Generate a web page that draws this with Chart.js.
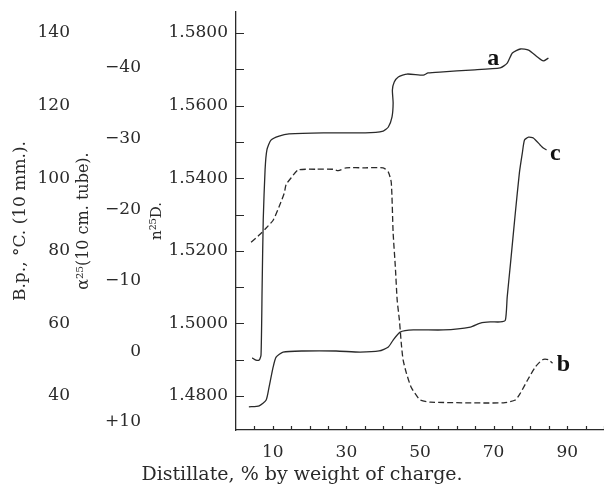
<!DOCTYPE html>
<html>
<head>
<meta charset="utf-8">
<script src="https://cdn.jsdelivr.net/npm/chart.js@4.4.0/dist/chart.umd.min.js"></script>
<style>
  html, body { margin: 0; padding: 0; background: #fff; }
</style>
</head>
<body>
<canvas id="distChart" width="604" height="487"></canvas>
<script>
// curve a: boiling point (°C, 10 mm.)
const aDistillate = [4.4, 5.4, 6.3, 6.8, 7.1, 7.4, 7.9, 8.4, 9.5, 11.7, 14.4, 23.7, 35.1, 40.0, 41.4, 42.4, 42.7, 42.5, 43.0, 44.1, 46.5, 50.9, 52.2, 56.3, 63.7, 71.8, 73.7, 75.1, 77.3, 79.5, 81.9, 83.5, 84.9];
const aBoilingPoint = [50.5, 49.9, 49.9, 51.3, 70.0, 88.5, 102.3, 107.8, 110.5, 111.6, 112.2, 112.5, 112.5, 113.0, 114.1, 116.9, 120.7, 124.3, 126.5, 127.9, 128.7, 128.4, 129.0, 129.3, 129.8, 130.4, 131.7, 134.5, 135.6, 135.3, 133.4, 132.3, 133.1];

// curve b: rotation alpha 25 (10 cm. tube)
const bDistillate = [4.1, 6.3, 8.2, 10.1, 11.7, 13.1, 13.6, 15.0, 16.9, 21.8, 26.4, 27.8, 29.9, 35.1, 40.0, 41.4, 42.2, 42.7, 43.3, 43.8, 44.4, 44.9, 45.4, 46.3, 47.6, 49.5, 50.1, 52.8, 72.7, 75.9, 77.3, 79.2, 81.4, 83.3, 84.9, 86.0];
const bRotation = [-15.4, -16.4, -17.4, -18.5, -20.4, -22.3, -23.5, -24.5, -25.6, -25.7, -25.7, -25.5, -25.9, -25.9, -25.9, -25.3, -23.8, -16.7, -11.9, -7.2, -4.4, -1.2, 1.2, 3.1, 5.1, 6.6, 6.9, 7.2, 7.3, 6.9, 5.9, 4.1, 2.2, 1.2, 1.2, 1.7];

// curve c: refractive index n25D
const cDistillate = [3.5, 6.3, 8.2, 9.0, 10.1, 10.9, 12.8, 18.2, 27.2, 33.7, 38.9, 41.4, 42.7, 44.6, 48.2, 56.3, 63.7, 66.4, 69.1, 71.8, 73.2, 73.7, 74.6, 75.9, 77.0, 77.8, 78.4, 79.5, 80.8, 82.7, 83.5, 84.4];
const cRefIndex = [1.4770, 1.4773, 1.4789, 1.4825, 1.4880, 1.4907, 1.4921, 1.4924, 1.4924, 1.4921, 1.4924, 1.4935, 1.4954, 1.4976, 1.4982, 1.4982, 1.4990, 1.5001, 1.5004, 1.5004, 1.5009, 1.5073, 1.5166, 1.5304, 1.5414, 1.5469, 1.5505, 1.5513, 1.5511, 1.5491, 1.5483, 1.5478];

// tick labels
const xTickLabels = [10, 30, 50, 70, 90];
const bpTickLabels = [40, 60, 80, 100, 120, 140];
const rotTickLabels = [-40, -30, -20, -10, 0, 10];
const nTickLabels = [1.48, 1.50, 1.52, 1.54, 1.56, 1.58];

// curve letters, placed on each curve's own axis
const curveNames = ['a', 'b', 'c'];
const curveAxes = ['bp', 'rot', 'n'];
const curveNameX = [69.9, 89.0, 86.8];
const curveNameY = [132.8, 1.95, 1.5467];

const INK = '#2a2a2a';
const SERIF = '"DejaVu Serif", serif';

function pts(xs, ys) {
    return xs.map((x, i) => ({ x: x, y: ys[i] }));
}
function has(list, v) {
    return list.some(t => Math.abs(t - v) < 1e-6);
}
// fixed axis widths so the three left axes sit like the print
function fixWidth(w) {
    return function(scale) {
        scale.width = w;
        scale.paddingTop = 0;
        scale.paddingBottom = 0;
    };
}

// short tick marks pointing into the plot, plus the a/b/c letters
const innerTicks = {
    id: 'innerTicks',
    afterDatasetsDraw(chart) {
        const { ctx, chartArea, scales } = chart;
        ctx.save();
        ctx.strokeStyle = INK;
        ctx.lineWidth = 1.2;
        ctx.beginPath();
        scales.n.ticks.forEach(t => {
            const y = Math.round(scales.n.getPixelForValue(t.value)) + 0.5;
            ctx.moveTo(chartArea.left, y);
            ctx.lineTo(chartArea.left + 8, y);
        });
        scales.x.ticks.forEach(t => {
            if (t.value === 0) return;
            const x = Math.round(scales.x.getPixelForValue(t.value)) + 0.5;
            ctx.moveTo(x, chartArea.bottom);
            ctx.lineTo(x, chartArea.bottom - 4);
        });
        ctx.stroke();

        ctx.font = 'bold 24px "Liberation Serif", serif';
        ctx.fillStyle = '#111';
        ctx.textAlign = 'center';
        ctx.textBaseline = 'middle';
        curveNames.forEach((name, i) => {
            const ys = scales[curveAxes[i]];
            ctx.fillText(name, scales.x.getPixelForValue(curveNameX[i]), ys.getPixelForValue(curveNameY[i]));
        });
        ctx.restore();
    }
};

const lineStyle = {
    borderColor: INK,
    borderWidth: 1.3,
    pointRadius: 0,
    fill: false,
    tension: 0.2
};

new Chart(document.getElementById('distChart'), {
    type: 'line',
    data: {
        datasets: [
            Object.assign({ label: 'a', data: pts(aDistillate, aBoilingPoint), yAxisID: 'bp' }, lineStyle),
            Object.assign({ label: 'b', data: pts(bDistillate, bRotation), yAxisID: 'rot', borderDash: [6, 3] }, lineStyle),
            Object.assign({ label: 'c', data: pts(cDistillate, cRefIndex), yAxisID: 'n' }, lineStyle)
        ]
    },
    options: {
        responsive: false,
        animation: false,
        devicePixelRatio: 1,
        layout: { padding: { top: 12, left: 0, right: 0, bottom: 0 } },
        plugins: {
            legend: { display: false },
            tooltip: { enabled: false },
            title: {
                display: true,
                position: 'bottom',
                text: 'Distillate, % by weight of charge.',
                color: INK,
                font: { family: SERIF, size: 19, weight: 'normal' },
                padding: { top: 0, bottom: 0.6 }
            }
        },
        scales: {
            x: {
                type: 'linear',
                min: 0,
                max: 100,
                grid: { display: false, drawTicks: false },
                border: { display: true, color: INK, width: 1.3 },
                ticks: {
                    stepSize: 5,
                    autoSkip: false,
                    maxRotation: 0,
                    padding: 12,
                    color: INK,
                    font: { family: SERIF, size: 17 },
                    callback: v => has(xTickLabels, v) ? String(v) : ''
                },
                afterFit(scale) {
                    scale.height = 33.6;
                    scale.paddingLeft = 0;
                    scale.paddingRight = 0;
                }
            },
            n: {
                position: 'left',
                weight: 0,
                min: 1.47063,
                max: 1.58579,
                grid: { display: false, drawTicks: false },
                border: { display: true, color: INK, width: 1.3 },
                title: {
                    display: true,
                    text: 'n²⁵D.',
                    color: INK,
                    font: { family: SERIF, size: 15 },
                    padding: { top: 3, bottom: 0 }
                },
                ticks: {
                    stepSize: 0.01,
                    includeBounds: false,
                    autoSkip: false,
                    padding: 8,
                    color: INK,
                    font: { family: SERIF, size: 17 },
                    callback: v => has(nTickLabels, v) ? v.toFixed(4) : ''
                },
                afterFit: fixWidth(91)
            },
            rot: {
                position: 'left',
                weight: 1,
                reverse: true,
                min: -47.91,
                max: 11.13,
                grid: { display: false, drawTicks: false },
                border: { display: false },
                title: {
                    display: true,
                    text: 'α²⁵(10 cm. tube).',
                    color: INK,
                    font: { family: SERIF, size: 16 },
                    padding: { top: 0, bottom: 0 }
                },
                ticks: {
                    stepSize: 10,
                    includeBounds: false,
                    autoSkip: false,
                    padding: 4,
                    color: INK,
                    font: { family: SERIF, size: 17 },
                    callback: v => has(rotTickLabels, v) ? (v > 0 ? '+' + v : v < 0 ? '\u2212' + Math.abs(v) : '0') : ''
                },
                afterFit: fixWidth(71)
            },
            bp: {
                position: 'left',
                weight: 2,
                min: 30.63,
                max: 145.79,
                grid: { display: false, drawTicks: false },
                border: { display: false },
                title: {
                    display: true,
                    text: 'B.p., °C. (10 mm.).',
                    color: INK,
                    font: { family: SERIF, size: 17 },
                    padding: { top: 10, bottom: 0 }
                },
                ticks: {
                    stepSize: 20,
                    includeBounds: false,
                    autoSkip: false,
                    padding: 4,
                    color: INK,
                    font: { family: SERIF, size: 17 },
                    callback: v => has(bpTickLabels, v) ? String(v) : ''
                },
                afterFit: fixWidth(74)
            }
        }
    },
    plugins: [innerTicks]
});
</script>
</body>
</html>
